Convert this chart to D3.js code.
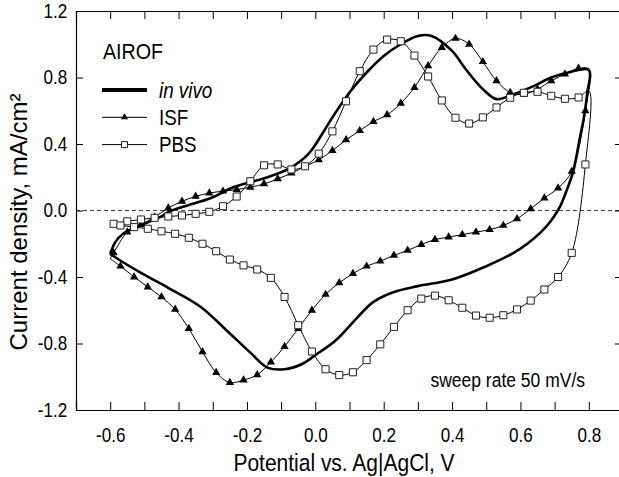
<!DOCTYPE html>
<html>

<head>
  <meta charset="utf-8">
  <title>AIROF CV</title>
  <style>
    body { margin: 0; background: #fff; }
    text { font-family: "Liberation Sans", Arial, sans-serif; fill: #000; }
  </style>
</head>

<body>
  <svg width="619" height="477"></svg>
  <script src="https://d3js.org/d3.v7.min.js"></script>
  <script>
    // in vivo (solid thick line), anodic sweep then cathodic sweep
    var vivoAnodicV = [-0.6, -0.585, -0.565, -0.535, -0.5, -0.45, -0.42, -0.35, -0.3, -0.24, -0.14, -0.07, -0.02, 0.02, 0.05, 0.1, 0.15, 0.2, 0.25, 0.3, 0.34, 0.4, 0.44, 0.49, 0.53, 0.58, 0.64, 0.69, 0.74, 0.8];
    var vivoAnodicI = [-0.26, -0.19, -0.145, -0.11, -0.08, -0.035, 0.0, 0.045, 0.08, 0.14, 0.2, 0.26, 0.34, 0.46, 0.56, 0.71, 0.83, 0.93, 1.0, 1.05, 1.05, 0.96, 0.85, 0.73, 0.67, 0.70, 0.75, 0.80, 0.83, 0.845];
    var vivoCathodicV = [0.795, 0.785, 0.775, 0.755, 0.735, 0.715, 0.69, 0.66, 0.62, 0.58, 0.5, 0.4, 0.3, 0.23, 0.17, 0.12, 0.06, 0.0, -0.04, -0.09, -0.14, -0.19, -0.26, -0.335, -0.43, -0.51, -0.59, -0.6];
    var vivoCathodicI = [0.7, 0.55, 0.45, 0.24, 0.12, 0.02, -0.06, -0.13, -0.2, -0.255, -0.335, -0.415, -0.455, -0.49, -0.55, -0.65, -0.78, -0.87, -0.925, -0.955, -0.945, -0.855, -0.72, -0.58, -0.465, -0.375, -0.275, -0.26];

    // ISF (triangles), one marker every 40 mV of sweep
    var isfAnodicV = [-0.59, -0.55, -0.51, -0.47, -0.43, -0.39, -0.35, -0.31, -0.27, -0.23, -0.19, -0.15, -0.11, -0.07, -0.03, 0.01, 0.05, 0.09, 0.13, 0.17, 0.21, 0.25, 0.29, 0.33, 0.37, 0.41, 0.45, 0.49, 0.53, 0.57, 0.61, 0.65, 0.69, 0.73, 0.77];
    var isfAnodicI = [-0.255, -0.13, -0.085, -0.04, 0.015, 0.055, 0.085, 0.105, 0.116, 0.126, 0.14, 0.16, 0.19, 0.225, 0.265, 0.305, 0.36, 0.425, 0.48, 0.535, 0.575, 0.645, 0.74, 0.87, 0.98, 1.035, 1.0, 0.895, 0.78, 0.71, 0.70, 0.73, 0.78, 0.82, 0.855];
    var isfCathodicV = [0.79, 0.75, 0.71, 0.67, 0.63, 0.59, 0.55, 0.51, 0.47, 0.43, 0.39, 0.35, 0.31, 0.27, 0.23, 0.19, 0.15, 0.11, 0.07, 0.03, -0.01, -0.05, -0.09, -0.13, -0.17, -0.21, -0.25, -0.29, -0.33, -0.37, -0.41, -0.45, -0.49, -0.53, -0.57];
    var isfCathodicI = [0.60, 0.235, 0.135, 0.075, 0.01, -0.05, -0.09, -0.115, -0.13, -0.145, -0.16, -0.175, -0.205, -0.24, -0.27, -0.305, -0.335, -0.38, -0.435, -0.505, -0.60, -0.71, -0.818, -0.912, -0.988, -1.02, -1.035, -0.975, -0.85, -0.71, -0.595, -0.52, -0.46, -0.40, -0.335];
    var isfTurnV = [0.8, -0.6];
    var isfTurnI = [0.85, -0.29];

    // PBS (open squares), same sampling as ISF
    var pbsAnodicV = isfAnodicV.slice();
    var pbsAnodicI = [-0.08, -0.065, -0.054, -0.044, -0.036, -0.03, -0.02, -0.008, 0.026, 0.084, 0.176, 0.272, 0.277, 0.247, 0.266, 0.342, 0.476, 0.657, 0.838, 0.968, 1.028, 1.018, 0.932, 0.806, 0.662, 0.558, 0.523, 0.56, 0.62, 0.678, 0.708, 0.714, 0.69, 0.672, 0.68];
    var pbsCathodicV = isfCathodicV.slice();
    var pbsCathodicI = [0.277, -0.255, -0.40, -0.475, -0.542, -0.595, -0.63, -0.645, -0.632, -0.585, -0.54, -0.512, -0.53, -0.60, -0.70, -0.805, -0.90, -0.973, -0.99, -0.955, -0.848, -0.69, -0.52, -0.405, -0.355, -0.33, -0.295, -0.245, -0.20, -0.164, -0.14, -0.125, -0.11, -0.10, -0.09];
    var pbsTurnV = [0.8, -0.6];
    var pbsTurnI = [0.72, -0.085];

    var xTicks = [-0.6, -0.5, -0.4, -0.3, -0.2, -0.1, 0.0, 0.1, 0.2, 0.3, 0.4, 0.5, 0.6, 0.7, 0.8];
    var xLabels = [-0.6, -0.4, -0.2, 0.0, 0.2, 0.4, 0.6, 0.8];
    var yTicks = [-1.2, -0.8, -0.4, 0.0, 0.4, 0.8, 1.2];

    var svg = d3.select("svg");
    var xScale = d3.scaleLinear().domain([-0.7, 0.9]).range([76, 623]);
    var yScale = d3.scaleLinear().domain([-1.2, 1.2]).range([410, 11]);
    var squeeze = "scale(0.875,1)"; // the source figure's lettering is a bit narrow

    function pts(vs, is) {
      return vs.map((v, k) => [v, is[k]]);
    }
    // full closed loop: turn, anodic, turn, cathodic, turn
    function loop(aV, aI, tV, tI, cV, cI) {
      return [[tV[1], tI[1]]].concat(pts(aV, aI), [[tV[0], tI[0]]], pts(cV, cI), [[tV[1], tI[1]]]);
    }

    var line = d3.line()
      .x(d => xScale(d[0]))
      .y(d => yScale(d[1]))
      .curve(d3.curveCatmullRom.alpha(0.5));

    var fmt = d => d.toFixed(1);

    function label(x, y, size, str, anchor, italic) {
      return svg.append("text")
        .attr("transform", "translate(" + x + "," + y + ") " + squeeze)
        .attr("text-anchor", anchor || "start")
        .style("font-size", size + "px")
        .style("font-style", italic ? "italic" : "normal")
        .text(str);
    }

    // zero line
    svg.append("line")
      .attr("x1", xScale(-0.7)).attr("x2", xScale(0.9))
      .attr("y1", yScale(0)).attr("y2", yScale(0))
      .attr("stroke", "#444")
      .attr("stroke-dasharray", "4,3");

    // axes, ticks inward
    svg.append("g")
      .attr("transform", "translate(0," + yScale(-1.2) + ")")
      .call(d3.axisBottom(xScale).tickValues(xTicks).tickSize(-8).tickPadding(18)
        .tickFormat(d => xLabels.some(l => Math.abs(l - d) < 1e-9) ? fmt(d) : ""));
    svg.append("g")
      .attr("transform", "translate(0," + yScale(1.2) + ")")
      .call(d3.axisTop(xScale).tickValues(xTicks).tickSize(-8).tickFormat(""));
    svg.append("g")
      .attr("transform", "translate(" + xScale(-0.7) + ",0)")
      .call(d3.axisLeft(yScale).tickValues(yTicks).tickSize(-7).tickPadding(10).tickFormat(fmt));
    svg.append("g")
      .attr("transform", "translate(" + xScale(0.9) + ",0)")
      .call(d3.axisRight(yScale).tickValues(yTicks).tickSize(-8).tickFormat(""));

    svg.selectAll(".domain").attr("stroke", "#000").attr("stroke-width", 1.2);
    svg.selectAll(".tick line").attr("stroke", "#000");
    svg.selectAll(".tick text").style("font-size", "19.5px").attr("fill", "#000")
      .attr("transform", squeeze);

    // curves
    svg.append("path")
      .attr("d", line(loop(isfAnodicV, isfAnodicI, isfTurnV, isfTurnI, isfCathodicV, isfCathodicI)))
      .attr("fill", "none").attr("stroke", "#000").attr("stroke-width", 1);
    svg.append("path")
      .attr("d", line(loop(pbsAnodicV, pbsAnodicI, pbsTurnV, pbsTurnI, pbsCathodicV, pbsCathodicI)))
      .attr("fill", "none").attr("stroke", "#000").attr("stroke-width", 1);
    svg.append("path")
      .attr("d", line(pts(vivoAnodicV, vivoAnodicI).concat(pts(vivoCathodicV, vivoCathodicI))))
      .attr("fill", "none").attr("stroke", "#000").attr("stroke-width", 2.6);

    var tri = d3.symbol().type(d3.symbolTriangle).size(30);
    var sq = d3.symbol().type(d3.symbolSquare).size(50);

    svg.append("g").selectAll("path")
      .data(pts(isfAnodicV, isfAnodicI).concat(pts(isfCathodicV, isfCathodicI)))
      .join("path")
      .attr("d", tri)
      .attr("transform", d => "translate(" + xScale(d[0]) + "," + yScale(d[1]) + ")")
      .attr("fill", "#000");

    svg.append("g").selectAll("path")
      .data(pts(pbsAnodicV, pbsAnodicI).concat(pts(pbsCathodicV, pbsCathodicI)))
      .join("path")
      .attr("d", sq)
      .attr("transform", d => "translate(" + xScale(d[0]) + "," + yScale(d[1]) + ")")
      .attr("fill", "#fff").attr("stroke", "#222").attr("stroke-width", 1);

    // legend
    label(103, 59, 22.5, "AIROF");
    var leg = [
      { name: "in vivo", w: 4, mark: null, italic: true },
      { name: "ISF", w: 1, mark: "tri" },
      { name: "PBS", w: 1, mark: "sq" }
    ];
    leg.forEach((d, k) => {
      var yy = 90 + k * 27.3;
      svg.append("line").attr("x1", 102).attr("x2", 147).attr("y1", yy).attr("y2", yy)
        .attr("stroke", "#000").attr("stroke-width", d.w);
      if (d.mark == "tri") {
        svg.append("path").attr("d", d3.symbol().type(d3.symbolTriangle).size(22))
          .attr("transform", "translate(124.5," + yy + ")").attr("fill", "#000");
      } else if (d.mark == "sq") {
        svg.append("path").attr("d", d3.symbol().type(d3.symbolSquare).size(36))
          .attr("transform", "translate(124.5," + yy + ")")
          .attr("fill", "#fff").attr("stroke", "#222");
      }
      label(159, yy + 7.5, 21.5, d.name, "start", d.italic);
    });

    label(585, 387, 20, "sweep rate 50 mV/s", "end");

    // axis titles
    label(344, 471, 24, "Potential vs. Ag|AgCl, V", "middle");
    svg.append("text").attr("transform", "translate(27,222) rotate(-90)").attr("text-anchor", "middle")
      .style("font-size", "24px").text("Current density, mA/cm\u00b2");
  </script>

</body>

</html>
